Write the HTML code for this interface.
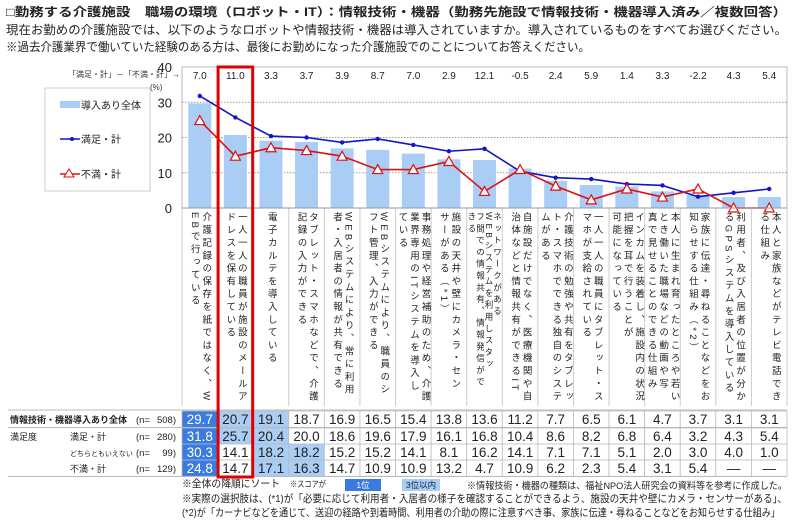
<!DOCTYPE html>
<html><head><meta charset="utf-8">
<style>
body{margin:0;background:#fff;width:800px;height:518px;overflow:hidden;position:relative;font-family:"Liberation Sans","Noto Sans CJK JP",sans-serif;}
.hd{position:absolute;left:6px;font-size:12px;color:#222;white-space:nowrap;transform-origin:0 0;}
.lab{position:absolute;top:212px;height:194px;display:flex;justify-content:center;overflow:hidden;}
.lab .v{writing-mode:vertical-rl;font-size:9.5px;line-height:11.5px;letter-spacing:3.3px;color:#222;white-space:nowrap;height:194px;}
.lab .v.c4{line-height:8.5px;font-size:8.5px;}
.fn{position:absolute;font-size:10.5px;color:#222;white-space:nowrap;transform-origin:0 0;}
</style></head><body>
<div class="hd fit" data-w="781" style="top:3px;font-weight:bold;">□勤務する介護施設　職場の環境（ロボット・IT）：情報技術・機器（勤務先施設で情報技術・機器導入済み／複数回答）</div>
<div class="hd fit" data-w="781" style="top:21px;">現在お勤めの介護施設では、以下のようなロボットや情報技術・機器は導入されていますか。導入されているものをすべてお選びください。</div>
<div class="hd fit" data-w="584" style="top:38px;">※過去介護業界で働いていた経験のある方は、最後にお勤めになった介護施設でのことについてお答えください。</div>

<svg id="chart" width="800" height="518" style="position:absolute;left:0;top:0" xmlns="http://www.w3.org/2000/svg"></svg>
<div id="labels"></div>

<div class="fn fit" data-w="98" style="left:182px;top:476px;">※全体の降順にソート</div>
<div class="fn fit" data-w="36" style="left:290px;top:478px;font-size:8.5px;">※スコアが</div>
<div style="position:absolute;left:345px;top:479px;width:36px;height:12px;background:#3a7be0;color:#fff;font-size:8.5px;text-align:center;line-height:12px;">1位</div>
<div style="position:absolute;left:402px;top:479px;width:38px;height:12px;background:#a9cdf5;color:#123;font-size:8.5px;text-align:center;line-height:12px;">3位以内</div>
<div class="fn fit" data-w="320" style="left:467px;top:478px;font-size:9.5px;">※情報技術・機器の種類は、福祉NPO法人研究会の資料等を参考に作成した。</div>
<div class="fn fit" data-w="605" style="left:182px;top:491px;">※実際の選択肢は、(*1)が「必要に応じて利用者・入居者の様子を確認することができるよう、施設の天井や壁にカメラ・センサーがある」、</div>
<div class="fn fit" data-w="598" style="left:182px;top:505px;">(*2)が「カーナビなどを通じて、送迎の経路や到着時間、利用者の介助の際に注意すべき事、家族に伝達・尋ねることなどをお知らせする仕組み」</div>

<script>
const categories=[
"介護記録の保存を紙ではなく、W|EBで行っている",
"一人一人の職員が施設のメールア|ドレスを保有している",
"電子カルテを導入している",
"タブレット・スマホなどで、介護|記録の入力ができる",
"WEBシステムにより、常に利用|者・入居者の情報が共有できる",
"WEBシステムにより、職員のシ|フト管理、入力ができる",
"事務処理や経営補助のため、介護|業界専用のITシステムを導入し|ている",
"施設の天井や壁にカメラ・セン|サーがある（*1）",
"ネットワークがある|WEBシステムを利用しスタッ|フ間での情報共有、情報発信がで|きる",
"自施設だけでなく、医療機関や自|治体などと情報共有ができるIT",
"介護技術の勉強や共有をタブレッ|ト・スマホでできる独自のシステ|ムがある",
"一人一人の職員にタブレット・ス|マホが支給されている",
"インカムを装着し、施設内の状況|把握を耳で行うことが|可能になっている",
"本人に生まれ育ったところや若い|とき働いた職場などの動画や写|真で見せることのできる仕組み",
"家族に伝達・尋ねることなどをお|知らせする仕組み（*2）",
"利用者、及び入居者の位置が分か|るGPSシステムを導入している",
"本人と家族などがテレビ電話でき|る仕組み"];
const totalVals=[29.7,20.7,19.1,18.7,16.9,16.5,15.4,13.8,13.6,11.2,7.7,6.5,6.1,4.7,3.7,3.1,3.1];
const satVals=[31.8,25.7,20.4,20.0,18.6,19.6,17.9,16.1,16.8,10.4,8.6,8.2,6.8,6.4,3.2,4.3,5.4];
const neutralVals=[30.3,14.1,18.2,18.2,15.2,15.2,14.1,8.1,16.2,14.1,7.1,7.1,5.1,2.0,3.0,4.0,1.0];
const disVals=[24.8,14.7,17.1,16.3,14.7,10.9,10.9,13.2,4.7,10.9,6.2,2.3,5.4,3.1,5.4,null,null];
const yTicks=[0,10,20,30,40];

const NS="http://www.w3.org/2000/svg";
const svg=document.getElementById('chart');
const X0=182,X1=787,Y0=208,YT=67,N=categories.length,CW=(X1-X0)/N;
const xC=i=>X0+CW*(i+0.5);
const yS=v=>Y0-(v/40)*(Y0-YT);
function mk(tag,attrs,parent){const e=document.createElementNS(NS,tag);for(const k in attrs)e.setAttribute(k,attrs[k]);(parent||svg).appendChild(e);return e;}

let fr=mk('rect',{x:X0,y:YT,width:X1-X0,height:Y0-YT,fill:'none',stroke:'#bbb'});


yTicks.forEach(t=>{
  if(t>0&&t<40){let g=mk('line',{x1:X0,x2:X1,y1:yS(t),y2:yS(t),stroke:'#999','stroke-dasharray':'1.5,1.5'});
  
  }
  let tx=mk('text',{x:172,y:yS(t)+5,'text-anchor':'end','font-size':13,fill:'#222'});tx.textContent=t;
  
  
});
let pu=mk('text',{x:150,y:90,'font-size':8,fill:'#333'});pu.textContent='(%)';


let dl=mk('text',{x:68,y:77,'font-size':8,fill:'#333'});dl.textContent='「満足・計」－「不満・計」→';



totalVals.forEach((v,i)=>{
  let b=mk('rect',{x:xC(i)-11.5,y:yS(v),width:23,height:Y0-yS(v),fill:'#a9cdf5'});
  
  
});
satVals.forEach((v,i)=>{
  const d=v-(disVals[i]==null?0:disVals[i]);
  let t=mk('text',{x:xC(i),y:79,'text-anchor':'middle','font-size':10,fill:'#222'});
  t.textContent=d.toFixed(1);
  
  
});
const satPts=satVals.map((v,i)=>xC(i)+','+yS(v)).join(' ');
let sl=mk('polyline',{points:satPts,fill:'none',stroke:'#1414c8','stroke-width':1.6});


satVals.forEach((v,i)=>{let c=mk('circle',{cx:xC(i),cy:yS(v),r:2.2,fill:'#1414c8'});

});
const disPts=disVals.map((v,i)=>xC(i)+','+yS(v==null?0:v)).join(' ');
let dln=mk('polyline',{points:disPts,fill:'none',stroke:'#e01010','stroke-width':1.6});


disVals.forEach((v,i)=>{const x=xC(i),y=yS(v==null?0:v);
let p=mk('polygon',{points:`${x},${y-5} ${x-5},${y+4} ${x+5},${y+4}`,fill:'#fff',stroke:'#e01010','stroke-width':1.2});

});

let lg=mk('rect',{x:45,y:88,width:105,height:103,fill:'#fff',stroke:'#ccc'});


let lb=mk('rect',{x:60,y:101,width:20,height:7,fill:'#a9cdf5'});


let lt1=mk('text',{x:81,y:109,'font-size':10,fill:'#222'});lt1.textContent='導入あり全体';


mk('line',{x1:60,x2:80,y1:139,y2:139,stroke:'#1414c8','stroke-width':1.6});
mk('circle',{cx:72,cy:139,r:2,fill:'#1414c8'});
let lt2=mk('text',{x:81,y:143,'font-size':10,fill:'#222'});lt2.textContent='満足・計';


mk('line',{x1:60,x2:80,y1:174,y2:174,stroke:'#e01010','stroke-width':1.6});
mk('polygon',{points:'69,169 64,177 74,177',fill:'#fff',stroke:'#e01010'});
let lt3=mk('text',{x:81,y:178,'font-size':10,fill:'#222'});lt3.textContent='不満・計';



for(let i=0;i<=N;i++){mk('line',{x1:X0+CW*i,x2:X0+CW*i,y1:Y0,y2:406,stroke:'#ccc'});}
mk('line',{x1:X0,x2:X1,y1:Y0,y2:Y0,stroke:'#999'});

const rows=[totalVals,satVals,neutralVals,disVals];
const rowTop=[411,428,444,460],RH=16.3;
const rowNames=['情報技術・機器導入あり全体','満足・計','どちらともいえない','不満・計'];
const rowN=[508,280,99,129];
mk('line',{x1:8,x2:X1,y1:410,y2:410,stroke:'#bbb'});
mk('line',{x1:8,x2:X1,y1:427.5,y2:427.5,stroke:'#bbb'});
mk('line',{x1:8,x2:X1,y1:476.5,y2:476.5,stroke:'#bbb'});
rows.forEach((arr,r)=>{
  const sorted=arr.filter(v=>v!=null).slice().sort((a,b)=>b-a);
  const third=sorted[2];
  arr.forEach((v,i)=>{
    let fill='#fff',col='#222';
    if(v!=null&&v===sorted[0]){fill='#3a7be0';col='#fff';}
    else if(v!=null&&v>=third){fill='#a9cdf5';}
    let c=mk('rect',{x:X0+CW*i,y:rowTop[r],width:CW,height:RH,fill:fill,stroke:'#bbb','stroke-width':0.8});
    
    
    let t=mk('text',{x:xC(i),y:rowTop[r]+13,'text-anchor':'middle','font-size':13.5,fill:col});
    t.textContent=v==null?'—':v.toFixed(1);
    
    
  });
  let rn=mk('text',{x:r==0?10:70,y:rowTop[r]+12,'font-size':r==2?7:9,'font-weight':r==0?'bold':'normal',fill:'#222'});
  rn.textContent=rowNames[r];
  
  
  let nn=mk('text',{x:136,y:rowTop[r]+12,'font-size':9.5,fill:'#222'});nn.textContent='(n=';
  
  
  let nv=mk('text',{x:176,y:rowTop[r]+12,'font-size':9.5,'text-anchor':'end',fill:'#222'});nv.textContent=rowN[r]+')';
  
  
});
let ms=mk('text',{x:10,y:440,'font-size':9,fill:'#222'});ms.textContent='満足度';



let hb=mk('rect',{x:X0+CW+0.5,y:YT,width:CW-1,height:476-YT+1,fill:'none',stroke:'#e00000','stroke-width':3});



const lc=document.getElementById('labels');
categories.forEach((c,i)=>{
  const d=document.createElement('div');
  d.className='lab';
  
  
  d.style.left=(X0+CW*i)+'px';
  d.style.width=(CW)+'px';
  const v=document.createElement('div');
  const parts=c.split('|');
  v.className='v'+(parts.length>3?' c4':'');
  v.innerHTML=parts.join('<br>');
  d.appendChild(v);
  lc.appendChild(d);
});

document.querySelectorAll('.fit').forEach(el=>{
  const w=el.getBoundingClientRect().width;
  const t=parseFloat(el.getAttribute('data-w'));
  el.style.transform='scaleX('+(t/w)+')';
});
</script>
</body></html>
